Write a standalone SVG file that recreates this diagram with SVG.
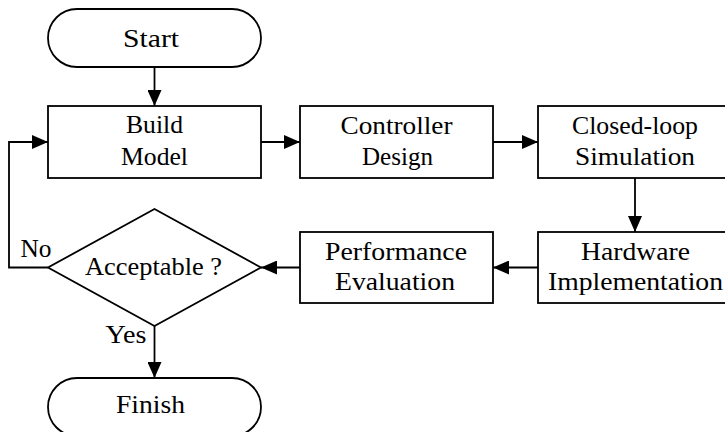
<svg xmlns="http://www.w3.org/2000/svg" width="725" height="432" viewBox="0 0 725 432" font-family="'Liberation Serif', 'Times New Roman', Tinos, 'DejaVu Serif', serif">
  <style>
    .shape { fill: #ffffff; stroke: #000000; stroke-width: 1.8; }
    .wire { fill: none; stroke: #000000; stroke-width: 1.8; }
    .lbl { font-size: 26px; fill: #000000; text-anchor: middle; }
  </style>
  <defs>
    <marker id="arrow" viewBox="0 0 16 14" refX="16" refY="7" markerWidth="16" markerHeight="14" markerUnits="userSpaceOnUse" orient="auto">
      <path d="M0,0 L16,7 L0,14 Z" fill="#000000"/>
    </marker>
  </defs>

  <!-- connectors -->
  <g id="connectors">
    <path class="wire" d="M154.5,67 L154.5,106" marker-end="url(#arrow)"/>
    <path class="wire" d="M261,142 L300,142" marker-end="url(#arrow)"/>
    <path class="wire" d="M493,142 L538,142" marker-end="url(#arrow)"/>
    <path class="wire" d="M635,178 L635,232" marker-end="url(#arrow)"/>
    <path class="wire" d="M538,267.5 L493,267.5" marker-end="url(#arrow)"/>
    <path class="wire" d="M300,267.5 L261,267.5" marker-end="url(#arrow)"/>
    <path class="wire" d="M154.5,326 L154.5,378" marker-end="url(#arrow)"/>
    <path class="wire" d="M48,267.5 L9,267.5 L9,142 L48,142" marker-end="url(#arrow)"/>
    <text class="lbl" x="36" y="257" textLength="31" lengthAdjust="spacingAndGlyphs">No</text>
    <text class="lbl" x="126" y="343" textLength="41" lengthAdjust="spacingAndGlyphs">Yes</text>
  </g>

  <g id="start">
    <rect class="shape" x="48" y="9" width="213" height="58" rx="29" ry="29"/>
    <text class="lbl" x="151" y="47" textLength="56" lengthAdjust="spacingAndGlyphs">Start</text>
  </g>

  <g id="build-model">
    <rect class="shape" x="48" y="106" width="213" height="72"/>
    <text class="lbl" x="154.5" y="133" textLength="57" lengthAdjust="spacingAndGlyphs">Build</text>
    <text class="lbl" x="154.5" y="165" textLength="67" lengthAdjust="spacingAndGlyphs">Model</text>
  </g>

  <g id="controller-design">
    <rect class="shape" x="300" y="106" width="193" height="72"/>
    <text class="lbl" x="396.5" y="134" textLength="112" lengthAdjust="spacingAndGlyphs">Controller</text>
    <text class="lbl" x="397.5" y="165" textLength="71" lengthAdjust="spacingAndGlyphs">Design</text>
  </g>

  <g id="closed-loop-simulation">
    <rect class="shape" x="538" y="106" width="193" height="72"/>
    <text class="lbl" x="635" y="134" textLength="126" lengthAdjust="spacingAndGlyphs">Closed-loop</text>
    <text class="lbl" x="635" y="165" textLength="120" lengthAdjust="spacingAndGlyphs">Simulation</text>
  </g>

  <g id="hardware-implementation">
    <rect class="shape" x="538" y="232" width="193" height="71"/>
    <text class="lbl" x="635.5" y="260" textLength="109" lengthAdjust="spacingAndGlyphs">Hardware</text>
    <text class="lbl" x="635.5" y="290" textLength="175" lengthAdjust="spacingAndGlyphs">Implementation</text>
  </g>

  <g id="performance-evaluation">
    <rect class="shape" x="300" y="232" width="193" height="71"/>
    <text class="lbl" x="396" y="260" textLength="142" lengthAdjust="spacingAndGlyphs">Performance</text>
    <text class="lbl" x="395" y="290" textLength="120" lengthAdjust="spacingAndGlyphs">Evaluation</text>
  </g>

  <g id="acceptable">
    <polygon class="shape" points="154.5,209 261,267.5 154.5,326 48,267.5"/>
    <text class="lbl" x="153.5" y="275" textLength="137" lengthAdjust="spacingAndGlyphs">Acceptable ?</text>
  </g>

  <g id="finish">
    <rect class="shape" x="48" y="378" width="213" height="58" rx="29" ry="29"/>
    <text class="lbl" x="150.5" y="413" textLength="69" lengthAdjust="spacingAndGlyphs">Finish</text>
  </g>
</svg>
